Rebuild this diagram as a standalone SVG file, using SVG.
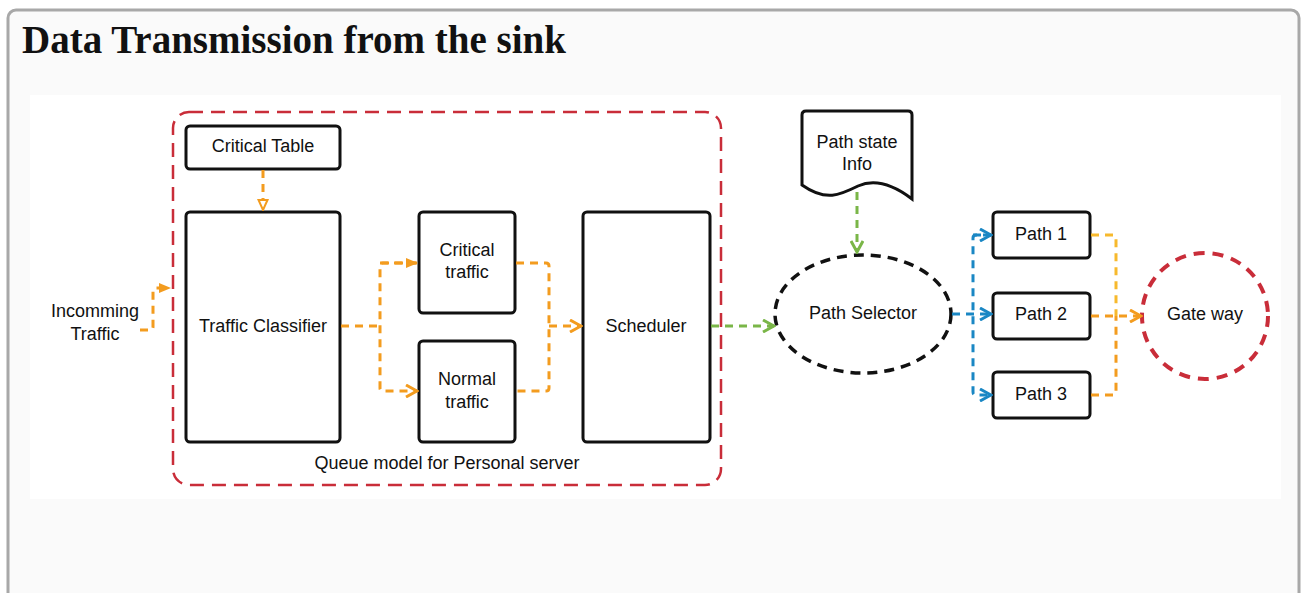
<svg xmlns="http://www.w3.org/2000/svg" width="1303" height="593" viewBox="0 0 1303 593">
<style>
.lbl{font-family:"Liberation Sans",Arial,sans-serif;font-size:18px;fill:#111;text-anchor:middle}
.box{fill:#fff;stroke:#111;stroke-width:3}
.or{fill:none;stroke:#f39c1f;stroke-width:3;stroke-dasharray:8 6}
.ye{fill:none;stroke:#f7b92d;stroke-width:3;stroke-dasharray:8 6}
.gr{fill:none;stroke:#7ab648;stroke-width:3;stroke-dasharray:8 6}
.bl{fill:none;stroke:#1a87c4;stroke-width:3;stroke-dasharray:8 6}
</style>
<defs>
<marker id="aoF" viewBox="0 0 12 12" refX="11" refY="6" markerWidth="12" markerHeight="12" markerUnits="userSpaceOnUse" orient="auto"><path d="M0,1 L12,6 L0,11 Z" fill="#f39c1f"/></marker>
<marker id="aoO" viewBox="0 0 14 14" refX="12" refY="7" markerWidth="14" markerHeight="14" markerUnits="userSpaceOnUse" orient="auto"><path d="M1,1 L12,7 L1,13" fill="none" stroke="#f39c1f" stroke-width="3"/></marker>
<marker id="aoT" viewBox="0 0 12 12" refX="11" refY="6" markerWidth="12" markerHeight="12" markerUnits="userSpaceOnUse" orient="auto"><path d="M1,1.5 L11,6 L1,10.5 Z" fill="#fff" stroke="#f39c1f" stroke-width="2"/></marker>
<marker id="agO" viewBox="0 0 14 14" refX="12" refY="7" markerWidth="14" markerHeight="14" markerUnits="userSpaceOnUse" orient="auto"><path d="M1,1 L12,7 L1,13" fill="none" stroke="#7ab648" stroke-width="3"/></marker>
<marker id="abO" viewBox="0 0 14 14" refX="12" refY="7" markerWidth="14" markerHeight="14" markerUnits="userSpaceOnUse" orient="auto"><path d="M1,1 L12,7 L1,13" fill="none" stroke="#1a87c4" stroke-width="3"/></marker>
</defs>
<rect x="0" y="0" width="1303" height="593" fill="#fff"/>
<rect x="8" y="10" width="1291" height="600" rx="8" fill="#fafafa" stroke="#a8a8a8" stroke-width="3"/>
<text x="22" y="53" font-family="Liberation Serif,'Times New Roman',serif" font-weight="bold" font-size="39" fill="#111">Data Transmission from the sink</text>
<rect x="30" y="95" width="1251" height="404" fill="#fff"/>

<g id="queue-model">
<rect x="173" y="112" width="548" height="373" rx="16" fill="none" stroke="#c92d39" stroke-width="2.5" stroke-dasharray="14 8"/>
<text class="lbl" x="447" y="469">Queue model for Personal server</text>
</g>
<g id="incoming"><text class="lbl"><tspan x="95" y="317">Incomming</tspan><tspan x="95" y="340">Traffic</tspan></text></g>
<g id="critical-table"><rect class="box" x="186" y="126" width="154" height="43" rx="4"/><text class="lbl" x="263" y="152">Critical Table</text></g>
<g id="traffic-classifier"><rect class="box" x="186" y="212" width="154" height="230" rx="4"/><text class="lbl" x="263" y="332">Traffic Classifier</text></g>
<g id="critical-traffic"><rect class="box" x="419" y="212" width="96" height="101" rx="4"/><text class="lbl"><tspan x="467" y="256">Critical</tspan><tspan x="467" y="278">traffic</tspan></text></g>
<g id="normal-traffic"><rect class="box" x="419" y="341" width="96" height="101" rx="4"/><text class="lbl"><tspan x="467" y="385">Normal</tspan><tspan x="467" y="408">traffic</tspan></text></g>
<g id="scheduler"><rect class="box" x="583" y="212" width="127" height="230" rx="4"/><text class="lbl" x="646" y="332">Scheduler</text></g>
<g id="path-state-info"><path class="box" d="M802,115 Q802,111 806,111 L908,111 Q912,111 912,115 L912,199 C895,186 876,178 858,186 C840,195 826,202 802,185 Z"/><text class="lbl"><tspan x="857" y="148">Path state</tspan><tspan x="857" y="170">Info</tspan></text></g>
<g id="path-selector"><ellipse cx="863" cy="314" rx="88" ry="59" fill="#fff" stroke="#111" stroke-width="3.5" stroke-dasharray="10 7"/><text class="lbl" x="863" y="319">Path Selector</text></g>
<g id="path1"><rect class="box" x="993" y="212" width="97" height="46" rx="4"/><text class="lbl" x="1041" y="240">Path 1</text></g>
<g id="path2"><rect class="box" x="993" y="293" width="97" height="46" rx="4"/><text class="lbl" x="1041" y="320">Path 2</text></g>
<g id="path3"><rect class="box" x="993" y="372" width="97" height="46" rx="4"/><text class="lbl" x="1041" y="400">Path 3</text></g>
<g id="gateway"><circle cx="1205" cy="316" r="63" fill="#fff" stroke="#c92d39" stroke-width="4" stroke-dasharray="11 8"/><text class="lbl" x="1205" y="320">Gate way</text></g>

<g id="connectors">
<path class="or" d="M140,330 L150,330 Q153,330 153,327 L153,291 Q153,288 156,288 L170,288" marker-end="url(#aoF)"/>
<path class="or" d="M263,170 L263,210" marker-end="url(#aoT)"/>
<path class="or" d="M341,326 L380,326"/>
<path class="or" d="M417,263 L383,263 Q380,263 380,266 L380,388 Q380,391 383,391 L417,391" marker-end="url(#aoO)" />
<path class="or" d="M380,263 L417,263" marker-end="url(#aoF)"/>
<path class="or" d="M516,263 L546,263 Q549,263 549,266 L549,388 Q549,391 546,391 L516,391"/>
<path class="or" d="M549,326 L581,326" marker-end="url(#aoO)"/>
<path class="gr" d="M711,326 L774,326" marker-end="url(#agO)"/>
<path class="gr" d="M857,192 L857,252" marker-end="url(#agO)"/>
<path class="bl" d="M952,314 L991,314" marker-end="url(#abO)"/>
<path class="bl" d="M991,235 L976,235 Q973,235 973,238 L973,392 Q973,395 976,395 L991,395" marker-end="url(#abO)"/>
<path class="bl" d="M973,235 L991,235" marker-end="url(#abO)"/>
<path class="ye" d="M1091,235 L1113,235 Q1116,235 1116,238 L1116,316"/>
<path class="or" d="M1091,395 L1113,395 Q1116,395 1116,392 L1116,316"/>
<path class="or" d="M1091,316 L1141,316" marker-end="url(#aoO)"/>
</g>
</svg>
